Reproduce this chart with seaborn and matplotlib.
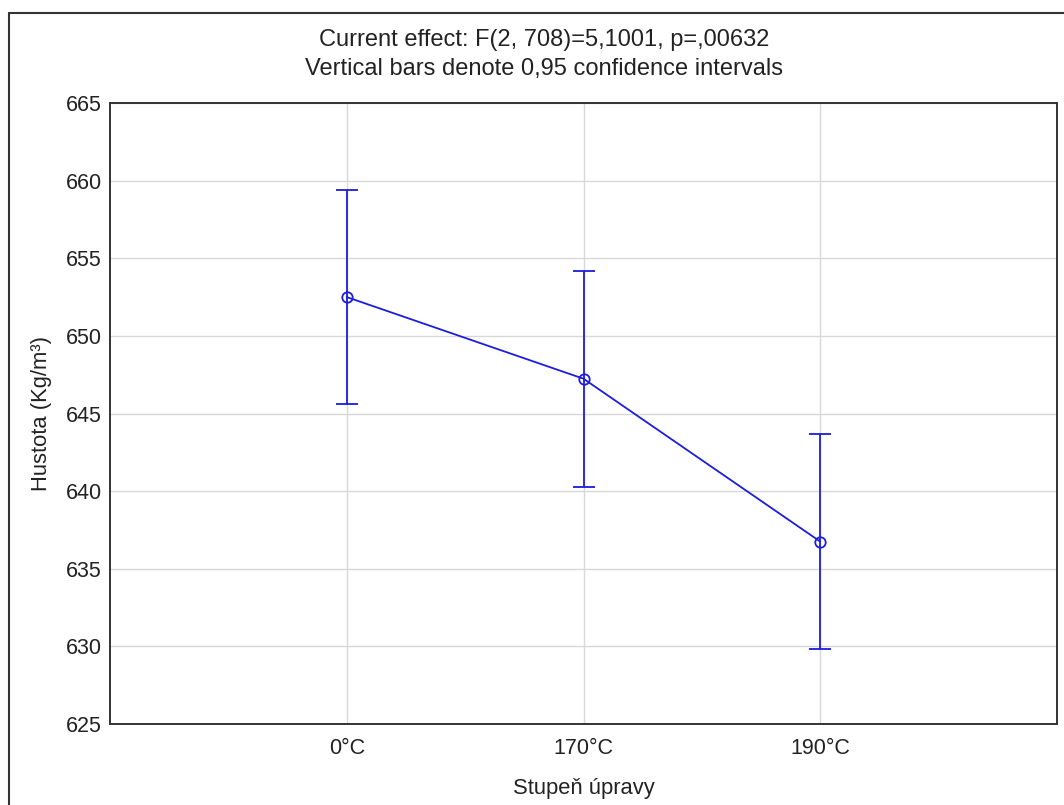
import seaborn as sns
import matplotlib.pyplot as plt
from matplotlib.lines import Line2D
import pandas as pd

categories = ['0°C', '170°C', '190°C']
means = [652.5, 647.24, 636.75]
ci_low = [645.58, 640.28, 629.83]
ci_high = [659.42, 654.2, 643.68]
y_ticks = [625, 630, 635, 640, 645, 650, 655, 660, 665]

sns.set_style("whitegrid")
plt.rcParams['font.family'] = ['Liberation Sans', 'DejaVu Sans']

df = pd.DataFrame({'cat': categories, 'val': means})
blue = '#1c1ce0'

fig = plt.figure(figsize=(10.64, 8.05), dpi=100)
ax = fig.add_axes([110 / 1064, 1 - 724 / 805, 947 / 1064, 621 / 805])

sns.pointplot(data=df, x='cat', y='val', color=blue, errorbar=None,
              markers='o', linewidth=1.3, markersize=7.5,
              markerfacecolor='none', markeredgewidth=1.3, ax=ax)
xs = list(range(len(categories)))
yerr = [[m - lo for m, lo in zip(means, ci_low)],
        [hi - m for m, hi in zip(means, ci_high)]]
ax.errorbar(xs, means, yerr=yerr, fmt='none', ecolor=blue,
            elinewidth=1.3, capsize=8, capthick=1.3, zorder=3)

ax.set_xlim(-1, 3)
ax.set_ylim(625, 665)
ax.set_yticks(y_ticks)
ax.set_xticks(xs)
ax.set_xticklabels(categories)
ax.grid(True, color='#d8d8d8', linewidth=1.0)
ax.tick_params(axis='both', direction='in', length=4, width=1,
               colors='#222222', labelsize=15.5)
ax.tick_params(axis='x', pad=10)
ax.tick_params(axis='y', pad=6)
for sp in ax.spines.values():
    sp.set_color('#333333')
    sp.set_linewidth(1.4)

ax.set_xlabel('Stupeň úpravy', fontsize=15.8, labelpad=14, color='#222222')
ax.set_ylabel('Hustota (Kg/m³)', fontsize=15.8, labelpad=10, color='#222222')

fig.text(544 / 1064, 1 - 40 / 805, 'Current effect: F(2, 708)=5,1001, p=,00632',
         ha='center', va='center', fontsize=17, color='#222222')
fig.text(544 / 1064, 1 - 69 / 805, 'Vertical bars denote 0,95 confidence intervals',
         ha='center', va='center', fontsize=17, color='#222222')

# outer frame
fig.add_artist(Line2D([9 / 1064, 1], [1 - 13 / 805, 1 - 13 / 805],
                      transform=fig.transFigure, color='#333333', linewidth=1.5))
fig.add_artist(Line2D([9 / 1064, 9 / 1064], [0, 1 - 13 / 805],
                      transform=fig.transFigure, color='#333333', linewidth=1.5))

fig.savefig('out.png', dpi=100)
